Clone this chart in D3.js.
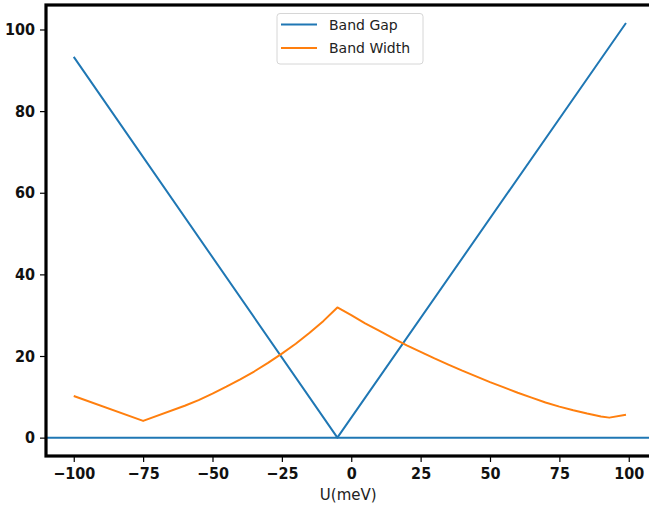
<!DOCTYPE html>
<html>
<head>
<meta charset="utf-8">
<script src="https://cdn.jsdelivr.net/npm/d3@7"></script>
<style>
  body { margin: 0; background: #fff; }
  svg.vis { display: block; }
</style>
</head>
<body>
<svg class="vis" width="649" height="510"></svg>
<script>

const gap_u = [-100, -5, 99];
const gap_vals = [93.3, 0, 101.6];

const width_u = [-100, -75, -60, -55, -50, -45, -40, -35, -30, -25, -20, -15, -10, -5,
                 0, 5, 10, 15, 20, 25, 30, 35, 40, 45, 50, 55, 60, 65, 70, 75, 80, 85, 90, 93, 99];
const width_vals = [10.2, 4.1, 7.8, 9.2, 10.8, 12.5, 14.3, 16.2, 18.3, 20.6, 23.0, 25.7, 28.6, 31.9,
                    30.0, 28.0, 26.2, 24.4, 22.6, 21.0, 19.4, 17.9, 16.4, 15.0, 13.6, 12.3, 11.0, 9.8, 8.6, 7.6, 6.7, 5.9, 5.2, 4.9, 5.6];

const x_ticks = [-100, -75, -50, -25, 0, 25, 50, 75, 100];
const y_ticks = [0, 20, 40, 60, 80, 100];

const series_names = ["Band Gap", "Band Width"];
const series_colors = ["#1f77b4", "#ff7f0e"];
const x_label = "U(meV)";

const v = {

    dims : { left : 46, right : 656.5, top : 5, bottom : 456 },

    scales : {
        x : null,
        y : null,
        init : () => {
            v.scales.x = d3.scaleLinear().domain([-110, 110]).range([v.dims.left, v.dims.right]);
            v.scales.y = d3.scaleLinear().domain([-4.5, 106]).range([v.dims.bottom, v.dims.top]);
        }
    },

    vis : {

        svg : 'svg.vis',

        draw : () => {

            const svg = d3.select(v.vis.svg);
            const x = v.scales.x, y = v.scales.y;
            const tickFont = "'DejaVu Sans Condensed', 'DejaVu Sans', sans-serif";

            // zero line across the whole axes
            svg.append("line")
              .attr("x1", v.dims.left).attr("x2", v.dims.right)
              .attr("y1", y(0)).attr("y2", y(0))
              .attr("stroke", series_colors[0])
              .attr("stroke-width", 2);

            const line = d3.line().x(d => x(d[0])).y(d => y(d[1]));

            const series = [
                d3.zip(gap_u, gap_vals),
                d3.zip(width_u, width_vals)
            ];

            svg.append("g")
              .selectAll("path")
              .data(series)
              .join("path")
              .attr("d", line)
              .attr("fill", "none")
              .attr("stroke", (d, i) => series_colors[i])
              .attr("stroke-width", 2)
              .attr("stroke-linejoin", "round");

            // axes
            const gx = svg.append("g")
              .attr("transform", `translate(0,${v.dims.bottom})`)
              .call(d3.axisBottom(x).tickValues(x_ticks).tickSize(6).tickPadding(6)
                    .tickFormat(d => d < 0 ? "\u2212" + Math.abs(d) : d));
            const gy = svg.append("g")
              .attr("transform", `translate(${v.dims.left},0)`)
              .call(d3.axisLeft(y).tickValues(y_ticks).tickSize(6).tickPadding(5));

            [gx, gy].forEach(g => {
                g.select(".domain").remove();
                g.selectAll(".tick line").attr("stroke", "#000").attr("stroke-width", 1.2);
                g.selectAll(".tick text")
                  .attr("fill", "#111")
                  .style("font-family", tickFont)
                  .style("font-weight", "bold")
                  .style("font-size", "16px");
            });

            // frame
            svg.append("rect")
              .attr("x", v.dims.left).attr("y", v.dims.top)
              .attr("width", v.dims.right - v.dims.left)
              .attr("height", v.dims.bottom - v.dims.top)
              .attr("fill", "none")
              .attr("stroke", "#000")
              .attr("stroke-width", 3.2);

            svg.append("text")
              .attr("x", (v.dims.left + v.dims.right) / 2 - 3)
              .attr("y", 500)
              .attr("text-anchor", "middle")
              .attr("fill", "#222")
              .style("font-family", "'DejaVu Sans', sans-serif")
              .style("font-size", "15px")
              .text(x_label);

            // legend
            const lg = svg.append("g").attr("transform", "translate(277,13.5)");
            lg.append("rect")
              .attr("width", 146).attr("height", 50.5)
              .attr("rx", 3)
              .attr("fill", "#fff")
              .attr("stroke", "#d6d6d6")
              .attr("stroke-width", 1);

            const item = lg.selectAll("g.item")
              .data(series_names)
              .join("g")
              .attr("class", "item")
              .attr("transform", (d, i) => `translate(0,${11 + i * 23.4})`);
            item.append("line")
              .attr("x1", 4).attr("x2", 40)
              .attr("stroke", (d, i) => series_colors[i])
              .attr("stroke-width", 2);
            item.append("text")
              .attr("x", 52)
              .attr("dy", "0.36em")
              .attr("fill", "#222")
              .style("font-family", "'DejaVu Sans', sans-serif")
              .style("font-size", "14px")
              .text(d => d);
        }
    },

    ctrl : {
        init : () => {
            v.scales.init();
            v.vis.draw();
        }
    }
}

v.ctrl.init();
</script>
</body>
</html>
